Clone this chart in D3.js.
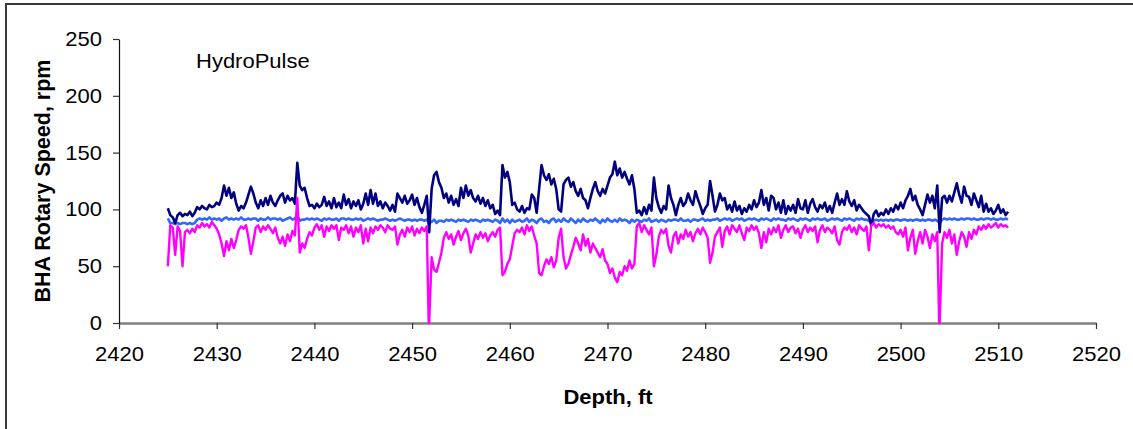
<!DOCTYPE html>
<html><head><meta charset="utf-8">
<script src="https://cdn.jsdelivr.net/npm/d3@7"></script>
<style>body{margin:0;background:#fff;overflow:hidden}</style>
</head><body><svg id="c" width="1133" height="429"></svg>
<script>
// Depth grid: first sample and spacing (ft)
const depthStart = 2425;
const depthStep = 0.25;

const xTicks = [2420,2430,2440,2450,2460,2470,2480,2490,2500,2510,2520];
const yTicks = [0,50,100,150,200,250];
const xTitle = "Depth, ft";
const yTitle = "BHA Rotary Speed, rpm";
const annotation = "HydroPulse";

// BHA rotary speed (dark blue), 4 samples per ft
const navySeries = [
101,95,93,88, 95,97,94,96, 95,98,94,97, 102,100,103,101, 100,104,102,103,
106,104,110,121, 112,119,110,115, 105,99,103,101, 106,113,120,114, 106,101,108,103,
110,104,112,106, 103,108,112,114, 106,112,108,110, 105,141,121,117, 119,110,103,104,
101,105,102,104, 111,103,107,101, 110,102,106,101, 113,104,109,101, 107,103,108,100,
105,114,104,117, 105,114,103,107, 101,106,103,99, 104,98,114,110, 106,112,105,108,
113,104,110,102, 97,104,112,80, 118,130,133,124, 119,110,114,106, 112,104,109,103,
119,110,121,112, 117,110,107,112, 105,110,103,108, 101,104,96,99, 95,139,128,133,
124,104,106,100, 98,103,97,101, 100,113,110,97, 118,139,130,126, 131,122,127,118,
100,98,122,126, 128,120,124,116, 112,118,110,108, 101,110,118,124, 116,112,118,114,
121,128,131,142, 130,136,128,133, 127,122,130,118, 97,99,95,102, 96,104,99,128,
110,102,97,103, 100,121,110,104, 95,104,110,103, 106,114,108,104, 116,109,103,96,
101,104,125,112, 98,104,114,108, 110,100,104,98, 107,99,103,96, 101,98,104,100,
108,102,106,117, 104,110,99,112, 110,100,106,97, 108,96,103,99, 104,97,109,101,
100,108,97,105, 109,102,98,104, 101,106,98,103, 97,106,114,104, 109,104,116,107,
103,108,99,104, 101,98,96,94, 86,96,99,94, 97,95,100,96, 101,98,104,100,
106,101,108,112, 118,108,112,104, 100,95,104,113, 106,112,101,121, 80,110,112,106,
112,107,115,123, 113,106,120,112, 111,104,114,108, 102,112,98,105, 98,101,96,99,
104,97,100,95, 98
];

// Surface / motor reference speed (light blue)
const blueSeries = [
92,88,88,87, 88,87,88,88, 87,88,87,88, 91,92,91,92, 91,93,91,92,
91,92,90,92, 93,91,92,91, 92,91,93,91, 91,92,91,92, 92,90,92,91,
91,93,91,92, 92,91,92,90, 91,92,93,91, 92,95,90,91, 91,92,91,92,
91,92,91,90, 92,91,92,91, 91,92,90,92, 92,91,92,91, 91,92,91,92,
90,91,92,91, 92,91,90,91, 91,92,91,90, 91,90,91,92, 91,90,91,91,
90,91,90,91, 91,90,91,88, 89,91,88,90, 90,89,91,90, 91,90,89,91,
90,91,90,89, 91,90,91,90, 89,91,90,91, 90,89,91,90, 88,92,89,91,
88,91,89,90, 91,89,90,92, 89,91,90,88, 91,92,89,90, 88,91,92,89,
91,89,92,90, 89,92,90,88, 91,89,92,90, 89,91,90,92, 90,88,91,89,
92,90,89,91, 89,92,90,91, 90,88,91,89, 91,90,89,91, 90,92,89,90,
91,89,91,90, 89,91,90,91, 91,90,92,90, 90,91,89,91, 91,90,91,92,
90,91,90,91, 91,92,90,91, 92,91,92,90, 91,92,91,92, 90,91,92,91,
92,91,90,92, 91,92,91,90, 92,91,92,91, 91,90,92,91, 92,91,90,92,
91,92,91,90, 92,91,92,91, 91,92,90,91, 92,91,92,91, 90,92,91,92,
91,90,92,91, 92,91,91,90, 88,90,91,90, 91,90,91,90, 91,90,91,91,
90,91,91,90, 91,90,91,91, 90,91,90,91, 91,90,91,90, 88,91,92,91,
92,91,92,91, 91,92,91,92, 92,91,92,91, 91,92,91,92, 92,91,92,91,
91,92,91,92, 91
];

// Bit rotary speed (magenta)
const magentaSeries = [
50,86,84,60, 85,81,50,80, 82,79,83,80, 86,84,88,85, 87,84,89,86,
83,78,70,59, 72,64,74,66, 73,82,85,83, 86,75,61,72, 84,86,80,85,
82,86,83,79, 84,75,70,76, 68,78,72,81, 77,110,62,70, 66,74,80,77,
84,87,82,86, 76,85,81,86, 83,86,73,84, 82,86,79,85, 76,84,80,86,
70,83,72,84, 79,85,82,86, 84,80,86,83, 82,85,69,78, 82,76,84,80,
85,77,83,79, 84,81,85,0, 58,47,45,53, 62,75,80,74, 78,69,76,81,
73,79,83,77, 62,70,78,74, 80,75,79,72, 77,80,76,82, 84,42,45,52,
56,68,79,82, 80,84,78,86, 81,85,77,70, 44,42,50,56, 52,58,49,55,
75,83,58,48, 52,60,67,75, 70,64,78,68, 74,62,70,66, 62,58,65,55,
52,44,48,40, 36,45,42,50, 46,55,48,52, 85,88,80,86, 82,78,84,50,
60,76,82,79, 83,68,62,76, 80,70,78,74, 82,76,80,72, 79,83,78,84,
80,75,53,62, 76,80,84,67, 81,85,78,86, 83,80,86,79, 73,84,81,86,
82,85,79,66, 80,71,83,78, 84,80,86,75, 82,86,80,84, 85,79,83,75,
82,86,80,84, 81,85,71,82, 86,80,84,82, 79,85,73,69, 80,84,82,86,
80,84,78,86, 83,81,85,64, 86,88,84,87, 85,87,84,86, 83,85,80,78,
82,76,84,64, 75,82,61,72, 80,70,82,76, 66,78,72,80, 0,70,80,75,
82,70,78,60, 72,80,76,67, 80,74,82,78, 85,82,86,83, 87,84,86,88,
84,87,85,86, 84
];
// extra samples at the sharp drop-outs (depth, rpm)
const magentaDropDepths = [2451.70, 2503.95];
const magentaDropValues = [0, 0];

const svg = d3.select("#c");
const W = 1133, H = 429;
const x = d3.scaleLinear().domain([2420, 2520]).range([119, 1096]);
const y = d3.scaleLinear().domain([0, 250]).range([323, 39]);
const FONT = "'Liberation Sans', Arial, Helvetica, sans-serif";
const SX = 1.1;

svg.append("rect").attr("width", W).attr("height", H).attr("fill", "#fff");
// outer chart border (extends past right/bottom edge)
svg.append("rect").attr("x", 6).attr("y", 4).attr("width", W + 20).attr("height", H + 20)
  .attr("fill", "none").attr("stroke", "#3a3a3a").attr("stroke-width", 2);

function toPoints(vals) {
  return vals.map((v, i) => ({d: depthStart + i * depthStep, v}));
}
const navyPts = toPoints(navySeries);
const bluePts = toPoints(blueSeries);
const magPts = toPoints(magentaSeries)
  .concat(magentaDropDepths.map((d, i) => ({d, v: magentaDropValues[i]})))
  .sort((a, b) => a.d - b.d);

const line = d3.line().x(p => x(p.d)).y(p => y(p.v));

// x axis
const gx = svg.append("g").attr("transform", "translate(0,323)")
  .call(d3.axisBottom(x).tickValues(xTicks).tickFormat(d3.format("d")).tickSize(6).tickSizeOuter(0).tickPadding(18));
gx.select(".domain").attr("stroke", "#808080").attr("stroke-width", 2.5);
gx.selectAll(".tick line").attr("stroke", "#333").attr("stroke-width", 1.2);
gx.selectAll(".tick text").attr("font-family", FONT).attr("font-size", 20).attr("fill", "#000")
  .attr("transform", `scale(${SX},1)`);

// y axis
const gy = svg.append("g").attr("transform", "translate(119,0)")
  .call(d3.axisLeft(y).tickValues(yTicks).tickSize(6).tickSizeOuter(0).tickPadding(9.5));
gy.select(".domain").attr("stroke", "#111").attr("stroke-width", 1.2);
gy.selectAll(".tick line").attr("stroke", "#333").attr("stroke-width", 1.2);
gy.selectAll(".tick text").attr("font-family", FONT).attr("font-size", 20).attr("fill", "#000")
  .attr("transform", `scale(${SX},1)`);

// series
svg.append("path").datum(bluePts).attr("d", line).attr("fill", "none")
  .attr("stroke", "#3366ff").attr("stroke-width", 2.6).attr("stroke-linejoin", "round");
svg.append("path").datum(navyPts).attr("d", line).attr("fill", "none")
  .attr("stroke", "#000080").attr("stroke-width", 2.6).attr("stroke-linejoin", "round");
svg.append("path").datum(magPts).attr("d", line).attr("fill", "none")
  .attr("stroke", "#ff00ff").attr("stroke-width", 2.4).attr("stroke-linejoin", "round");

// titles
svg.append("text").attr("transform", `translate(608,404) scale(${SX},1)`)
  .attr("text-anchor", "middle").attr("font-family", FONT).attr("font-weight", "bold")
  .attr("font-size", 20).text(xTitle);
svg.append("text").attr("transform", "translate(50,181) rotate(-90)")
  .attr("text-anchor", "middle").attr("font-family", FONT).attr("font-weight", "bold")
  .attr("font-size", 21.5).text(yTitle);
svg.append("text").attr("transform", `translate(196,68) scale(${SX},1)`)
  .attr("font-family", FONT).attr("font-size", 20).text(annotation);
</script>
</body></html>
